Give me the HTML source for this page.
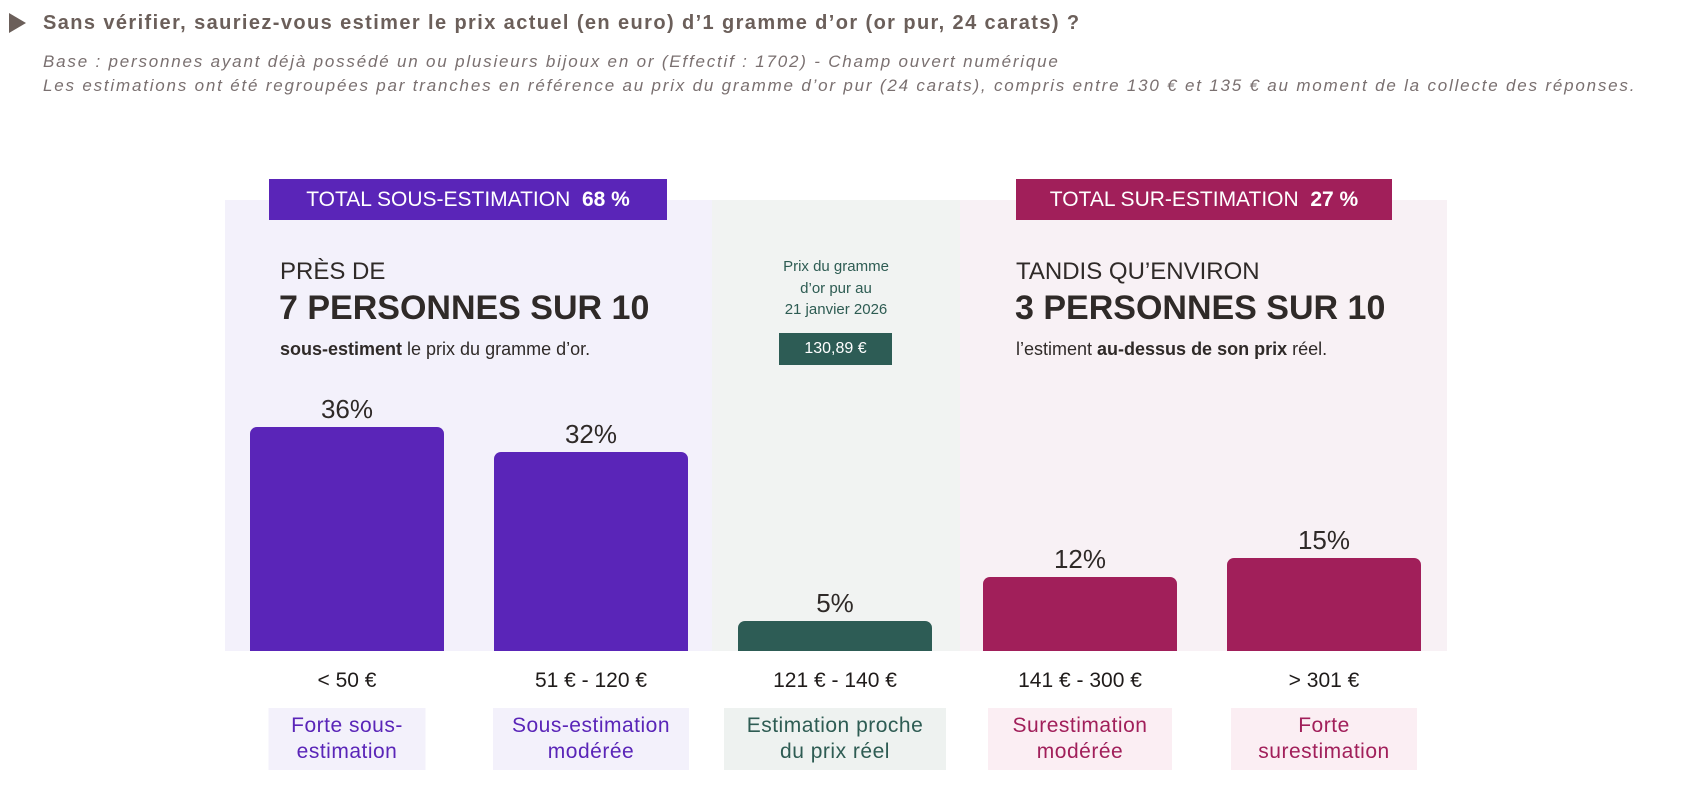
<!DOCTYPE html>
<html><head><meta charset="utf-8"><style>
*{margin:0;padding:0;box-sizing:border-box}
body{width:1700px;height:797px;background:#fff;position:relative;overflow:hidden;font-family:"Liberation Sans",sans-serif;}
.a{position:absolute;white-space:nowrap}
.c{transform:translateX(-50%);text-align:center}
.bar{position:absolute;bottom:146px;border-radius:7px 7px 0 0}
.pct{position:absolute;font-size:26px;color:#2f2a28;transform:translateX(-50%);white-space:nowrap}
.rng{position:absolute;top:669px;font-size:21px;color:#1f1b1a;transform:translateX(-50%);white-space:nowrap}
.tag{position:absolute;top:708px;transform:translateX(-50%);text-align:center;font-size:21px;line-height:26px;padding:5px 8px;letter-spacing:0.5px}
</style></head><body>
<div class="a" style="left:9px;top:13px;width:0;height:0;border-top:10px solid transparent;border-bottom:10px solid transparent;border-left:17px solid #6b5f5a"></div>
<div class="a" style="left:43px;top:12px;font-size:20px;color:#6b5f5a;font-weight:bold;letter-spacing:1.4px">Sans vérifier, sauriez-vous estimer le prix actuel (en euro) d’1 gramme d’or (or pur, 24 carats) ?</div>
<div class="a" style="left:43px;top:50px;font-size:17px;font-style:italic;color:#7a7070;line-height:24px;letter-spacing:1.8px">Base : personnes ayant déjà possédé un ou plusieurs bijoux en or (Effectif : 1702) - Champ ouvert numérique<br>Les estimations ont été regroupées par tranches en référence au prix du gramme d’or pur (24 carats), compris entre 130 € et 135 € au moment de la collecte des réponses.</div>

<div class="a" style="left:225px;top:200px;width:487px;height:451px;background:#f3f1fb"></div>
<div class="a" style="left:712px;top:200px;width:248px;height:451px;background:#f1f3f2"></div>
<div class="a" style="left:960px;top:200px;width:487px;height:451px;background:#f8f1f5"></div>

<div class="a" style="left:269px;top:179px;width:398px;height:41px;background:#5a25b8;color:#fff;font-size:21px;line-height:41px;text-align:center">TOTAL SOUS-ESTIMATION&nbsp; <b>68 %</b></div>
<div class="a" style="left:1016px;top:179px;width:376px;height:41px;background:#a11f5a;color:#fff;font-size:21px;line-height:41px;text-align:center">TOTAL SUR-ESTIMATION&nbsp; <b>27 %</b></div>

<div class="a" style="left:280px;top:258px;font-size:24px;color:#2f2a28">PRÈS DE</div>
<div class="a" style="left:279px;top:289px;font-size:34px;font-weight:bold;color:#2f2a28">7 PERSONNES SUR 10</div>
<div class="a" style="left:280px;top:339px;font-size:18px;color:#2f2a28"><b>sous-estiment</b> le prix du gramme d’or.</div>

<div class="a" style="left:1016px;top:258px;font-size:24px;color:#2f2a28">TANDIS QU’ENVIRON</div>
<div class="a" style="left:1015px;top:289px;font-size:34px;font-weight:bold;color:#2f2a28">3 PERSONNES SUR 10</div>
<div class="a" style="left:1016px;top:339px;font-size:18px;color:#2f2a28">l’estiment <b>au-dessus de son prix</b> réel.</div>

<div class="a c" style="left:836px;top:256px;font-size:15px;line-height:21.5px;color:#2e5c53">Prix du gramme<br>d’or pur au<br>21 janvier 2026</div>
<div class="a" style="left:779px;top:333px;width:113px;height:32px;background:#2d5c55;color:#fff;font-size:16px;line-height:32px;text-align:center">130,89 €</div>

<div class="bar" style="left:250px;width:194px;height:224px;background:#5a25b8"></div>
<div class="bar" style="left:494px;width:194px;height:199px;background:#5a25b8"></div>
<div class="bar" style="left:738px;width:194px;height:30px;background:#2d5c55"></div>
<div class="bar" style="left:983px;width:194px;height:74px;background:#a11f5a"></div>
<div class="bar" style="left:1227px;width:194px;height:93px;background:#a11f5a"></div>

<div class="pct" style="left:347px;top:394px">36%</div>
<div class="pct" style="left:591px;top:419px">32%</div>
<div class="pct" style="left:835px;top:588px">5%</div>
<div class="pct" style="left:1080px;top:544px">12%</div>
<div class="pct" style="left:1324px;top:525px">15%</div>

<div class="rng" style="left:347px">&lt; 50 €</div>
<div class="rng" style="left:591px">51 € - 120 €</div>
<div class="rng" style="left:835px">121 € - 140 €</div>
<div class="rng" style="left:1080px">141 € - 300 €</div>
<div class="rng" style="left:1324px">&gt; 301 €</div>

<div class="tag" style="left:347px;width:157px;background:#f3f1fb;color:#5a25b8">Forte sous-<br>estimation</div>
<div class="tag" style="left:591px;width:196px;background:#f3f1fb;color:#5a25b8">Sous-estimation<br>modérée</div>
<div class="tag" style="left:835px;width:222px;background:#eef2f0;color:#2e5c53">Estimation proche<br>du prix réel</div>
<div class="tag" style="left:1080px;width:184px;background:#fbeef3;color:#a11f5a">Surestimation<br>modérée</div>
<div class="tag" style="left:1324px;width:186px;background:#fbeef3;color:#a11f5a">Forte<br>surestimation</div>
</body></html>
